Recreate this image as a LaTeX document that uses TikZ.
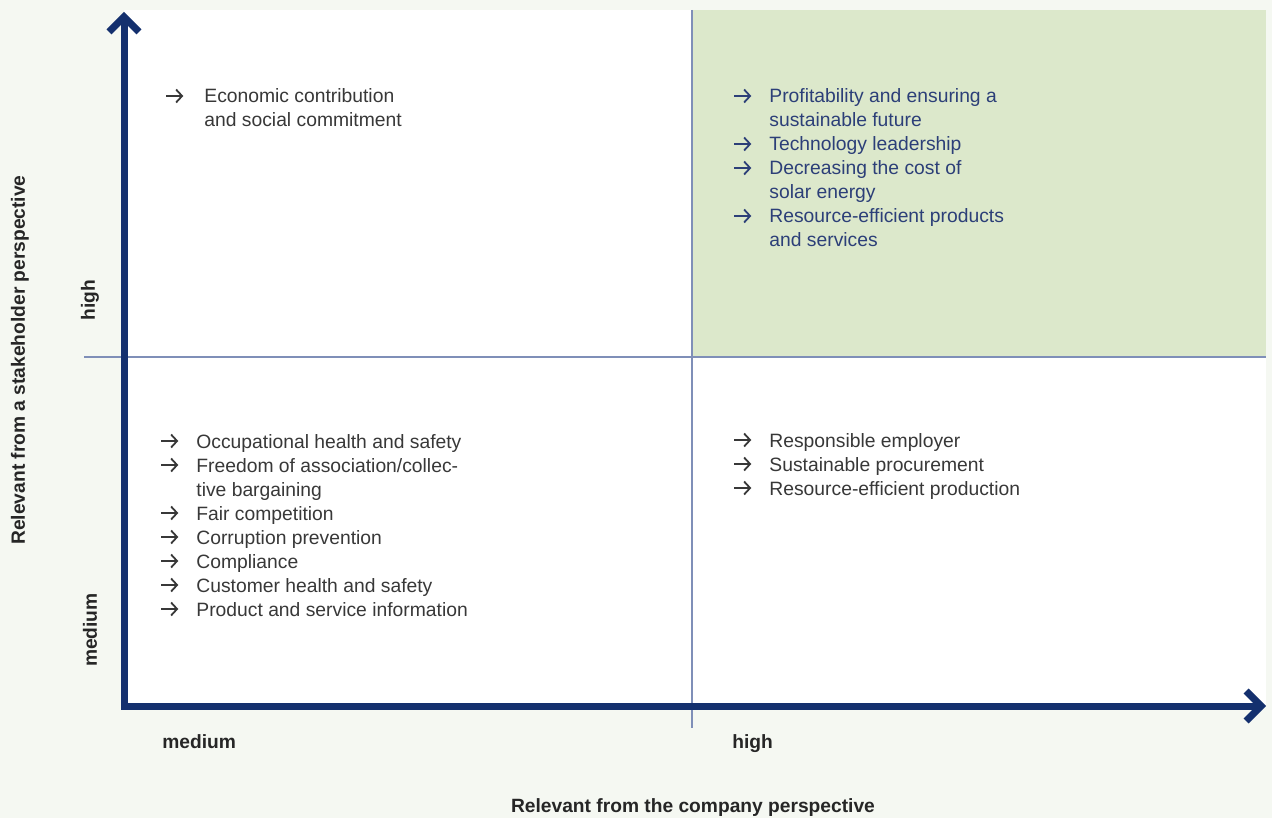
\documentclass[tikz,border=0pt]{standalone}
\usepackage{fontspec}
\setmainfont{Liberation Sans}
\usetikzlibrary{arrows.meta}

\definecolor{bgcol}{HTML}{F5F8F2}
\definecolor{greenfill}{HTML}{DCE8CB}
\definecolor{axisblue}{HTML}{14306E}
\definecolor{gridblue}{HTML}{7F8FB8}
\definecolor{greytext}{HTML}{383838}
\definecolor{navytext}{HTML}{2C3F78}

\newcommand{\arr}{\tikz[baseline=-3.5pt]\draw[line width=0.9pt,
  -{Straight Barb[sharp,length=3pt,width=6.5pt]}] (0pt,0pt) -- (8.5pt,0pt);}
\newcommand{\itm}[1]{\makebox[18pt][l]{\arr}#1}
\newcommand{\cnt}[1]{\hspace*{18pt}#1}

\tikzset{
  axis/.style={draw=axisblue, line width=3.5pt, line cap=rect,
    -{Straight Barb[sharp,length=7.5pt,width=15pt]}},
  gridline/.style={draw=gridblue, line width=0.8pt},
  itemlist/.style={anchor=base west, inner sep=0pt, text=greytext,
    font=\fontsize{9.65}{12}\selectfont},
  axislabel/.style={inner sep=0pt, text=black!85,
    font=\fontsize{9.6}{11}\selectfont\bfseries},
}

\begin{document}
\begin{tikzpicture}[x=0.5pt,y=-0.5pt]
\useasboundingbox (0,0) rectangle (1272,818);
\fill[bgcol] (0,0) rectangle (1272,818);
\fill[white] (124,10) rectangle (1266,706);
\fill[greenfill] (692,10) rectangle (1266,357);

% grid
\coordinate (gl) at (84,357);
\coordinate (gr) at (1266,357);
\coordinate (gt) at (692,10);
\coordinate (gb) at (692,728);
\draw[gridline] (gl) -- (gr);
\draw[gridline] (gt) -- (gb);

% axes
\coordinate (origin) at (124,706);
\coordinate (ytip) at (124,12);
\coordinate (xtip) at (1266,706);
\draw[axis] (origin) -- (ytip);
\draw[axis] (origin) -- (xtip);

% quadrants
\node[itemlist] (econ) at (165,103) {\begin{tabular}[t]{@{}l@{}}
\makebox[19.5pt][l]{\arr}Economic contribution\\
\hspace*{19.5pt}and social commitment
\end{tabular}};

\node[itemlist, text=navytext] (core) at (733,103) {\begin{tabular}[t]{@{}l@{}}
\itm{Profitability and ensuring a}\\
\cnt{sustainable future}\\
\itm{Technology leadership}\\
\itm{Decreasing the cost of}\\
\cnt{solar energy}\\
\itm{Resource-efficient products}\\
\cnt{and services}
\end{tabular}};

\node[itemlist] (stake) at (160,448) {\begin{tabular}[t]{@{}l@{}}
\itm{Occupational health and safety}\\
\itm{Freedom of association/collec-}\\
\cnt{tive bargaining}\\
\itm{Fair competition}\\
\itm{Corruption prevention}\\
\itm{Compliance}\\
\itm{Customer health and safety}\\
\itm{Product and service information}
\end{tabular}};

\node[itemlist] (company) at (733,447) {\begin{tabular}[t]{@{}l@{}}
\itm{Responsible employer}\\
\itm{Sustainable procurement}\\
\itm{Resource-efficient production}
\end{tabular}};

% axis labels
\node[axislabel, rotate=90] (yhigh) at (90,300) {high};
\node[axislabel, rotate=90] (ymed) at (90,630) {medium};
\node[axislabel, rotate=90] (ytitle) at (20,360) {Relevant from a stakeholder perspective};
\node[axislabel, anchor=base west] (xmed) at (162,748) {medium};
\node[axislabel, anchor=base west] (xhigh) at (732,748) {high};
\node[axislabel] (xtitle) at (693,808) {Relevant from the company perspective};
\end{tikzpicture}
\end{document}
